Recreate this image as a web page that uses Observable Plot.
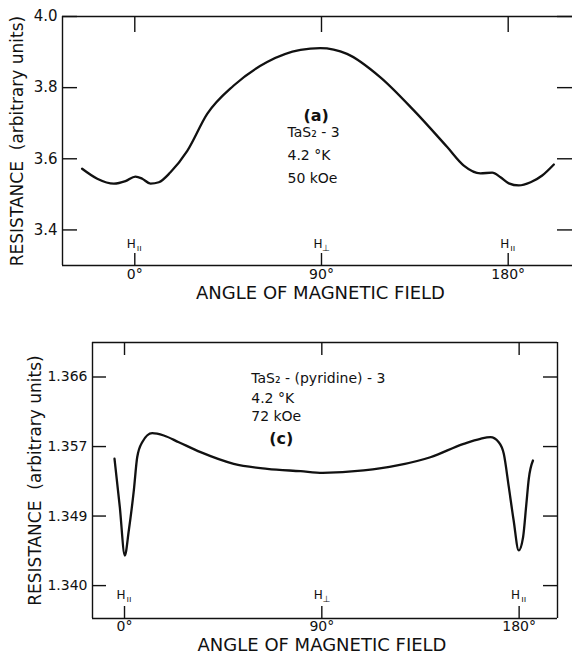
<!DOCTYPE html>
<html><head><meta charset="utf-8">
<script src="https://cdn.jsdelivr.net/npm/d3@7"></script>
<script src="https://cdn.jsdelivr.net/npm/@observablehq/plot@0.6"></script>
<style>
html,body{margin:0;padding:0;background:#fff;overflow:hidden}
#wrap{width:572px;height:656px;overflow:hidden}
#wrap svg{display:block}
</style></head><body><div id="wrap"></div>
<script>
// ---- shared
const angleTicks = [0, 90, 180];
const angleTickLabels = ["0°", "90°", "180°"];
const fieldSymbols = ["ıı", "⊥", "ıı"];
const xTitle = "ANGLE OF MAGNETIC FIELD";
const yTitle = "RESISTANCE  (arbitrary units)";

// ---- panel (a)
const aAngle = [-25.4, -18.1, -10.1, -4.5, 0.3, 3.6, 7.6, 11.6, 17.2, 25.3, 34.9, 47.7, 63.8, 79.9, 89.4, 102.3, 118.4, 134.5, 150.6, 158.6, 166.6, 172.3, 176.3, 180.3, 185.1, 190.8, 196.4, 202.0];
const aResistance = [3.572, 3.544, 3.530, 3.537, 3.550, 3.544, 3.530, 3.534, 3.562, 3.622, 3.726, 3.806, 3.872, 3.906, 3.911, 3.895, 3.829, 3.736, 3.633, 3.581, 3.559, 3.561, 3.548, 3.531, 3.525, 3.534, 3.553, 3.584];
const aYTicks = [3.4, 3.6, 3.8, 4.0];
const aXDomain = [-34.85, 211.0];
const aYDomain = [3.3, 4.0];
const aTag = "(a)";
const aTagAngle = 87.4, aTagRes = 3.721;
const aNotes = ["TaS₂ - 3", "4.2 °K", "50 kOe"];
const aNoteAngle = 73.6;
const aNoteRes = [3.674, 3.608, 3.544];

// ---- panel (c)
const cAngle = [-4.56, -2.14, 0.14, 1.96, 4.24, 5.79, 8.07, 12.63, 17.92, 24.76, 34.7, 49.8, 65.1, 80.3, 90.4, 109.1, 124.4, 139.5, 154.7, 162.3, 166.9, 170.7, 173.0, 175.3, 177.5, 179.8, 181.8, 183.3, 184.4, 186.3];
const cResistance = [1.35581, 1.34977, 1.34375, 1.34687, 1.35185, 1.35600, 1.35787, 1.35900, 1.35871, 1.35787, 1.35663, 1.35518, 1.35456, 1.35426, 1.35406, 1.35435, 1.35497, 1.35600, 1.35767, 1.35830, 1.35850, 1.35787, 1.35643, 1.35227, 1.34811, 1.34438, 1.34603, 1.35020, 1.35331, 1.35559];
const cYTicks = [1.340, 1.34867, 1.35733, 1.366];
const cXDomain = [-14.6, 197.5];
const cYDomain = [1.3359, 1.3703];
const cTag = "(c)";
const cTagAngle = 71.5, cTagRes = 1.35835;
const cNotes = ["TaS₂ - (pyridine) - 3", "4.2 °K", "72 kOe"];
const cNoteAngle = 57.8;
const cNoteRes = [1.36579, 1.36333, 1.36103];

const FONT = "'DejaVu Sans', sans-serif";
const INK = "#111";

function panel(o) {
  const frameW = o.width - o.ml - o.mr;
  const frameH = o.height - o.mt - o.mb;
  const marks = [
    Plot.ruleY([o.yDomain[0], o.yDomain[1]], {stroke: INK, strokeWidth: 1.4}),
    Plot.ruleX([o.xDomain[0]], {stroke: INK, strokeWidth: 1.4}),
  ];
  if (o.rightEdge) marks.push(Plot.ruleX([o.xDomain[1]], {stroke: INK, strokeWidth: 1.4}));
  marks.push(
    Plot.tickX(angleTicks, {x: d => d, insetTop: frameH - o.xTickBottom, stroke: INK, strokeWidth: 1.4}),
    Plot.tickX(angleTicks, {x: d => d, insetBottom: frameH - o.xTickTop, stroke: INK, strokeWidth: 1.4}),
    Plot.tickY(o.yTicks, {y: d => d, insetRight: frameW - o.yTick, stroke: INK, strokeWidth: 1.4}),
    Plot.tickY(o.yTicks, {y: d => d, insetLeft: frameW - o.yTick, stroke: INK, strokeWidth: 1.4}),
    Plot.axisX(angleTicks, {tickSize: 0, tickPadding: o.xPad, tickFormat: (d, i) => angleTickLabels[i], fontSize: o.xTickFont, label: null, fill: INK}),
    Plot.axisY(o.yTicks, {tickSize: 0, tickPadding: 5, tickFormat: o.yFormat, fontSize: o.yTickFont, label: null, fill: INK}),
    Plot.text(angleTicks, {x: d => d, frameAnchor: "bottom", lineAnchor: "middle", text: () => "H", dy: o.hDy, dx: -3.5, fontSize: o.hFont, fill: INK}),
    Plot.text(angleTicks, {x: d => d, frameAnchor: "bottom", lineAnchor: "middle", text: (d, i) => fieldSymbols[i], dy: o.hDy + 4, dx: 4.5, fontSize: o.hFont - 3, fill: INK}),
    Plot.text([xTitle], {frameAnchor: "bottom", lineAnchor: "middle", textAnchor: "middle", text: d => d, dy: o.xTitleDy, dx: o.xTitleDx, fontSize: 18, fill: INK}),
    Plot.text([yTitle], {frameAnchor: "left", lineAnchor: "middle", textAnchor: "middle", text: d => d, rotate: -90, dx: o.yTitleDx, fontSize: 17, fill: INK}),
    Plot.line(o.angle.map((a, i) => ({a, r: o.res[i]})), {x: "a", y: "r", curve: "monotone-x", stroke: INK, strokeWidth: 2.3}),
    Plot.text(o.notes, {x: () => o.noteAngle, y: (d, i) => o.noteRes[i], text: d => d, textAnchor: "start", fontSize: o.noteFont, fill: INK}),
    Plot.text([o.tag], {x: () => o.tagAngle, y: () => o.tagRes, text: d => d, fontSize: 16, fontWeight: "bold", fill: INK})
  );
  return Plot.plot({
    width: o.width, height: o.height,
    marginLeft: o.ml, marginRight: o.mr, marginTop: o.mt, marginBottom: o.mb,
    x: {domain: o.xDomain, axis: null},
    y: {domain: o.yDomain, axis: null},
    style: {fontFamily: FONT, fontSize: "15px", background: "#fff", color: INK, overflow: "hidden"},
    marks
  });
}

const panelTop = panel({
  width: 572, height: 310, ml: 62, mr: 0, mt: 16, mb: 45, rightEdge: false,
  xDomain: aXDomain, yDomain: aYDomain, yTicks: aYTicks, yFormat: d3.format(".1f"),
  xTickTop: 16, xTickBottom: 12, yTick: 15, xPad: 4, xTickFont: 14, yTickFont: 15,
  hDy: -21, hFont: 12, xTitleDy: 28, xTitleDx: 3, yTitleDx: -45,
  angle: aAngle, res: aResistance, notes: aNotes, noteAngle: aNoteAngle, noteRes: aNoteRes, noteFont: 14,
  tag: aTag, tagAngle: aTagAngle, tagRes: aTagRes
});
const panelBottom = panel({
  width: 572, height: 346, ml: 92, mr: 15, mt: 32, mb: 38, rightEdge: true,
  xDomain: cXDomain, yDomain: cYDomain, yTicks: cYTicks, yFormat: d3.format(".3f"),
  xTickTop: 13, xTickBottom: 12, yTick: 14, xPad: 3, xTickFont: 14, yTickFont: 14,
  hDy: -23, hFont: 12, xTitleDy: 27, xTitleDx: -3, yTitleDx: -57,
  angle: cAngle, res: cResistance, notes: cNotes, noteAngle: cNoteAngle, noteRes: cNoteRes, noteFont: 14,
  tag: cTag, tagAngle: cTagAngle, tagRes: cTagRes
});
document.getElementById("wrap").append(panelTop, panelBottom);
</script>
</body></html>
